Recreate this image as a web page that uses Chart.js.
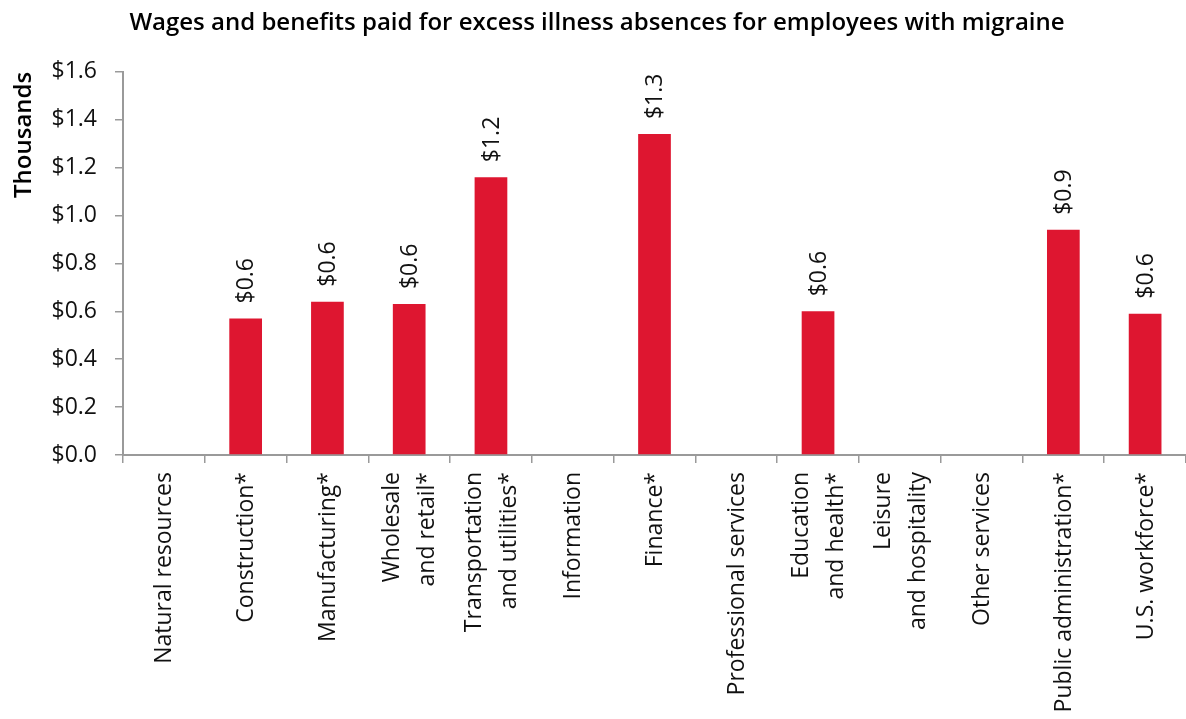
<!DOCTYPE html>
<html>
<head>
<meta charset="utf-8">
<title>Migraine absence costs</title>
<script src="https://cdn.jsdelivr.net/npm/chart.js@4.4.1/dist/chart.umd.min.js"></script>
<style>
  html, body { margin: 0; padding: 0; background: #fff; }
  #wrap { width: 1186px; height: 719px; }
</style>
</head>
<body>
<div id="wrap"><canvas id="myChart"></canvas></div>
<script>
// categories (multi-line ones are arrays)
const industries = [
    'Natural resources',
    'Construction*',
    'Manufacturing*',
    ['Wholesale', 'and retail*'],
    ['Transportation', 'and utilities*'],
    'Information',
    'Finance*',
    'Professional services',
    ['Education', 'and health*'],
    ['Leisure', 'and hospitality'],
    'Other services',
    'Public administration*',
    'U.S. workforce*'
];

// thousands of dollars, null = no bar shown
const costs = [null, 0.57, 0.64, 0.63, 1.16, null, 1.34, null, 0.60, null, null, 0.94, 0.59];

const yTicks = [0, 0.2, 0.4, 0.6, 0.8, 1.0, 1.2, 1.4, 1.6];

const red = '#DE1630';
const axisGrey = '#9a9a9a';
const fontFamily = "'Open Sans', sans-serif";
const tickFont = { family: fontFamily, size: 23, weight: 400 };

// value labels drawn vertically above each bar
const barLabels = {
    id: 'barLabels',
    afterDatasetsDraw(chart) {
        const ctx = chart.ctx;
        const meta = chart.getDatasetMeta(0);
        ctx.save();
        ctx.fillStyle = '#111';
        ctx.font = "400 23px " + fontFamily;
        ctx.textAlign = 'left';
        ctx.textBaseline = 'middle';
        meta.data.forEach((bar, i) => {
            const v = costs[i];
            if (v === null) return;
            ctx.save();
            ctx.translate(bar.x + 1, bar.y - 15);
            ctx.rotate(-Math.PI / 2);
            ctx.fillText('$' + v.toFixed(1), 0, 0);
            ctx.restore();
        });
        ctx.restore();
    }
};

// category labels, rotated and centred on the tick (lines spread evenly)
const categoryLabels = {
    id: 'categoryLabels',
    afterDraw(chart) {
        const ctx = chart.ctx;
        const xs = chart.scales.x;
        const lineH = 35;
        ctx.save();
        ctx.fillStyle = '#111';
        ctx.font = "400 23px " + fontFamily;
        ctx.textAlign = 'right';
        ctx.textBaseline = 'middle';
        industries.forEach((lab, i) => {
            const lines = Array.isArray(lab) ? lab : [lab];
            const cx = xs.getPixelForValue(i);
            lines.forEach((line, j) => {
                const off = (j - (lines.length - 1) / 2) * lineH;
                ctx.save();
                ctx.translate(cx + off + 1, chart.chartArea.bottom + 17);
                ctx.rotate(-Math.PI / 2);
                ctx.fillText(line, 0, 0);
                ctx.restore();
            });
        });
        ctx.restore();
    }
};

const ctx = document.getElementById('myChart');
const myChart = new Chart(ctx, {
    type: 'bar',
    data: {
        labels: industries,
        datasets: [{
            label: 'Cost',
            data: costs,
            backgroundColor: red,
            borderWidth: 0,
            barPercentage: 0.4,
            categoryPercentage: 1.0
        }]
    },
    options: {
        responsive: true,
        maintainAspectRatio: false,
        animation: false,
        layout: { padding: { top: 0, left: 8, right: 0, bottom: 0 } },
        plugins: {
            legend: { display: false },
            tooltip: { enabled: false },
            title: {
                display: true,
                text: 'Wages and benefits paid for excess illness absences for employees with migraine',
                color: '#000',
                font: { family: fontFamily, size: 24, weight: 600 },
                padding: { top: 9, bottom: 34 }
            }
        },
        scales: {
            x: {
                grid: {
                    drawOnChartArea: false,
                    drawTicks: true,
                    tickLength: 8,
                    color: axisGrey,
                    lineWidth: 1.5
                },
                border: { color: axisGrey, width: 2 },
                ticks: { display: false, autoSkip: false },
                afterFit(scale) { scale.height = 264; }
            },
            y: {
                min: 0,
                max: 1.6,
                afterBuildTicks(scale) {
                    scale.ticks = yTicks.map(v => ({ value: v }));
                },
                grid: {
                    drawOnChartArea: false,
                    drawTicks: true,
                    tickLength: 8,
                    color: axisGrey,
                    lineWidth: 1.5
                },
                border: { color: axisGrey, width: 2 },
                ticks: {
                    color: '#111',
                    font: tickFont,
                    padding: 18,
                    callback: v => '$' + Number(v).toFixed(1)
                },
                title: {
                    display: true,
                    text: 'Thousands',
                    align: 'end',
                    color: '#000',
                    font: { family: fontFamily, size: 24, weight: 600 },
                    padding: { top: 2, bottom: 6 }
                },
                afterFit(scale) { scale.width = 115; }
            }
        }
    },
    plugins: [barLabels, categoryLabels]
});
</script>
</body>
</html>
